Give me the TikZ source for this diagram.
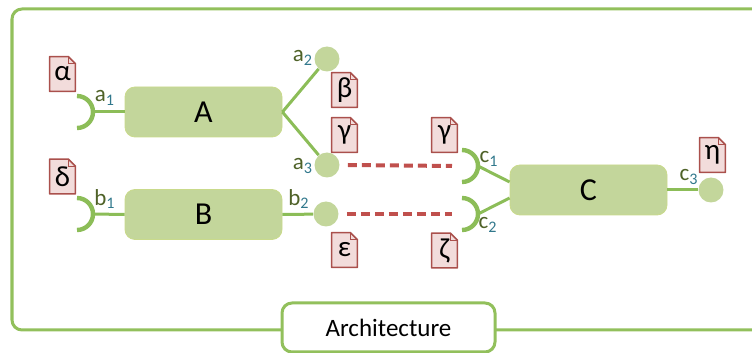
\documentclass[tikz,border=0pt]{standalone}
\usepackage{fontspec}
\setmainfont{Carlito}
\usetikzlibrary{calc, backgrounds}
\definecolor{framegreen}{RGB}{146,192,92}
\definecolor{boxgreen}{RGB}{195,214,155}
\definecolor{linegreen}{RGB}{140,189,88}
\definecolor{tagpink}{RGB}{242,220,219}
\definecolor{tagred}{RGB}{170,80,76}
\definecolor{dashred}{RGB}{192,80,77}
\definecolor{labelgreen}{RGB}{79,98,40}
\definecolor{subblue}{RGB}{49,120,140}
\newcommand{\portlabel}[2]{\textcolor{labelgreen}{#1}\textcolor{subblue}{\textsubscript{#2}}}

\begin{document}
\begin{tikzpicture}[x=0.5pt, y=-0.5pt,
  comp/.style={draw=boxgreen!90!yellow, fill=boxgreen, rounded corners=5pt,
               minimum width=78.5pt, minimum height=25pt, font=\fontsize{16}{18}\selectfont},
  ball/.style={circle, fill=boxgreen, minimum size=12.5pt, inner sep=0},
  tagbox/.style={minimum width=12.5pt, minimum height=17pt, inner sep=0,
                 font=\fontsize{14.5}{15}\selectfont},
  tagline/.style={draw=tagred, fill=tagpink, line width=0.8pt, line join=round},
  wire/.style={draw=linegreen, line width=1.5pt},
  sock/.style={draw=linegreen, line width=2.2pt},
  link/.style={draw=dashred, line width=2pt, dash pattern=on 4.5pt off 2.5pt},
  port/.style={font=\fontsize{11.5}{12}\selectfont, inner sep=0}]

  \useasboundingbox (0,0) rectangle (752,353);

  % frame and title
  \draw[draw=framegreen, line width=1.5pt, rounded corners=5pt]
    (800,9) -- (12,9) -- (12,330) -- (800,330);
  \node[draw=framegreen, fill=white, line width=1.5pt, rounded corners=5pt,
        minimum width=106.5pt, minimum height=24.5pt,
        font=\fontsize{12.5}{14}\selectfont] (arch) at (388.5,327.5) {Architecture};

  % components
  \node[comp] (A) at (203.5,112) {A};
  \node[comp] (B) at (203.5,214.5) {B};
  \node[comp] (C) at (588.5,190) {C};

  % provided ports
  \node[ball] (a2) at (327,59) {};
  \node[ball] (a3) at (327,165) {};
  \node[ball] (b2) at (326,214) {};
  \node[ball] (c3) at (711,190) {};

  % required ports
  \coordinate (a1) at (93,112);
  \coordinate (b1) at (93,214);
  \coordinate (c1) at (478,166);
  \coordinate (c2) at (478,214);
  \foreach \s in {a1,b1,c1,c2}
    \draw[sock] ($(\s)+(-16,-16)$) arc[start angle=-90, end angle=90, radius=16];

  % wires
  \draw[wire] (a1) -- (A.west);
  \draw[wire] (b1) -- (B.west);
  \draw[wire] (A.east) -- (a2);
  \draw[wire] (A.east) -- (a3);
  \draw[wire] (B.east) -- (b2);
  \draw[wire] (c1) -- ([yshift=4pt]C.west);
  \draw[wire] (c2) -- ([yshift=-4pt]C.west);
  \draw[wire] (C.east) -- (c3);

  % assemblies
  \draw[link] ([xshift=4pt]a3.east) -- ([xshift=-13pt]c1);
  \draw[link] ([xshift=4pt]b2.east) -- ([xshift=-13pt]c2);

  % port labels
  \node[port] at (105,98) {\portlabel{a}{1}};
  \node[port] at (303,58) {\portlabel{a}{2}};
  \node[port] at (303,166) {\portlabel{a}{3}};
  \node[port] at (105,199) {\portlabel{b}{1}};
  \node[port] at (299,199) {\portlabel{b}{2}};
  \node[port] at (489,159) {\portlabel{c}{1}};
  \node[port] at (488,225) {\portlabel{c}{2}};
  \node[port] at (689,177) {\portlabel{c}{3}};

  % interface tags
  \node[tagbox] (tAlpha) at (62.5,74) {α};
  \node[tagbox] (tDelta) at (62.5,176.5) {δ};
  \node[tagbox] (tBeta) at (344.5,90) {β};
  \node[tagbox] (tGammaA) at (344.5,135) {γ};
  \node[tagbox] (tEps) at (344.5,250) {ε};
  \node[tagbox] (tGammaC) at (444.5,135) {γ};
  \node[tagbox] (tZeta) at (444.5,250.5) {ζ};
  \node[tagbox] (tEta) at (712.5,155) {η};
  \begin{scope}[on background layer]
    \foreach \t in {tAlpha,tDelta,tBeta,tGammaA,tEps,tGammaC,tZeta,tEta} {
      \path[tagline] (\t.south west) -- (\t.north west) -- ([xshift=-3.5pt]\t.north east)
        -- ([yshift=-3.5pt]\t.north east) -- (\t.south east) -- cycle;
      \draw[draw=tagred, line width=0.5pt] ([xshift=-3.5pt]\t.north east)
        -- ([xshift=-3.5pt,yshift=-3.5pt]\t.north east) -- ([yshift=-3.5pt]\t.north east);
    }
  \end{scope}
\end{tikzpicture}
\end{document}
